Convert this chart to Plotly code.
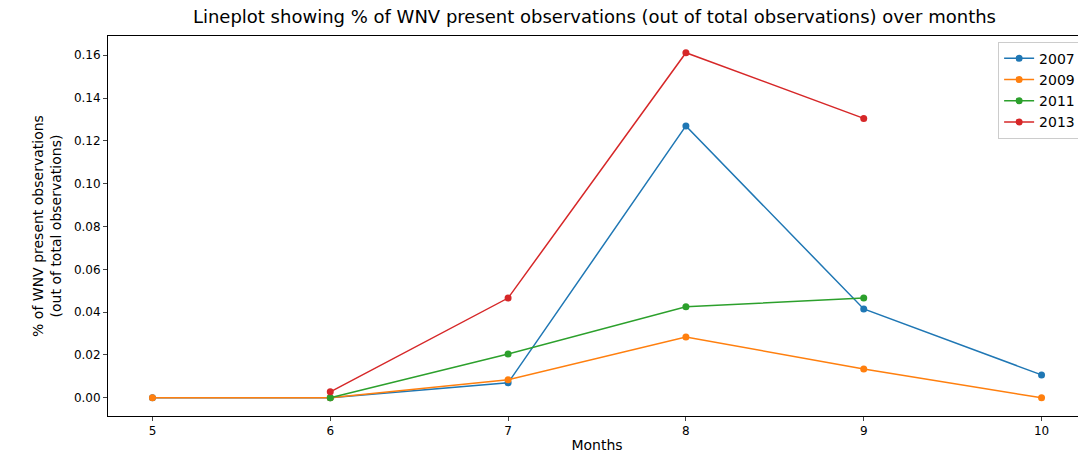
import plotly.graph_objects as go

months_2007 = [5, 6, 7, 8, 9, 10]
wnv_2007 = [0.0, 0.0, 0.007, 0.127, 0.0415, 0.0107]
months_2009 = [5, 6, 7, 8, 9, 10]
wnv_2009 = [0.0, 0.0, 0.0084, 0.0284, 0.0135, 0.0]
months_2011 = [6, 7, 8, 9]
wnv_2011 = [0.0, 0.0205, 0.0425, 0.0466]
months_2013 = [6, 7, 8, 9]
wnv_2013 = [0.0028, 0.0466, 0.1612, 0.1305]

series = [
    ('2007', months_2007, wnv_2007, '#1f77b4'),
    ('2009', months_2009, wnv_2009, '#ff7f0e'),
    ('2011', months_2011, wnv_2011, '#2ca02c'),
    ('2013', months_2013, wnv_2013, '#d62728'),
]

fig = go.Figure()
for name, x, y, c in series:
    fig.add_trace(go.Scatter(x=x, y=y, name=name, mode='lines+markers',
                             line=dict(color=c, width=1.5),
                             marker=dict(color=c, size=7)))

axis_common = dict(showline=True, linecolor='black', linewidth=1, mirror=True,
                   ticks='outside', ticklen=4, showgrid=False, zeroline=False,
                   tickfont=dict(size=12, color='black'))
fig.update_layout(
    width=1086, height=452,
    margin=dict(l=100, r=8, t=28, b=44),
    paper_bgcolor='white', plot_bgcolor='white',
    font=dict(family='DejaVu Sans', color='black'),
    title=dict(text='Lineplot showing % of WNV present observations (out of total observations) over months',
               font=dict(size=18), x=0.54, xanchor='center', y=0.995, yanchor='top'),
    xaxis=dict(axis_common, range=[4.75, 10.25], tickvals=[5, 6, 7, 8, 9, 10],
               title=dict(text='Months', font=dict(size=14), standoff=2)),
    yaxis=dict(axis_common, range=[-0.0085, 0.169], tickvals=[0, 0.02, 0.04, 0.06, 0.08, 0.1, 0.12, 0.14, 0.16],
               tickformat='.2f',
               title=dict(text='% of WNV present observations<br>(out of total observations)',
                          font=dict(size=14), standoff=8)),
    legend=dict(x=0.995, y=0.985, xanchor='right', yanchor='top',
                bordercolor='#cccccc', borderwidth=1, font=dict(size=14)),
)
fig.write_html('out.html')
